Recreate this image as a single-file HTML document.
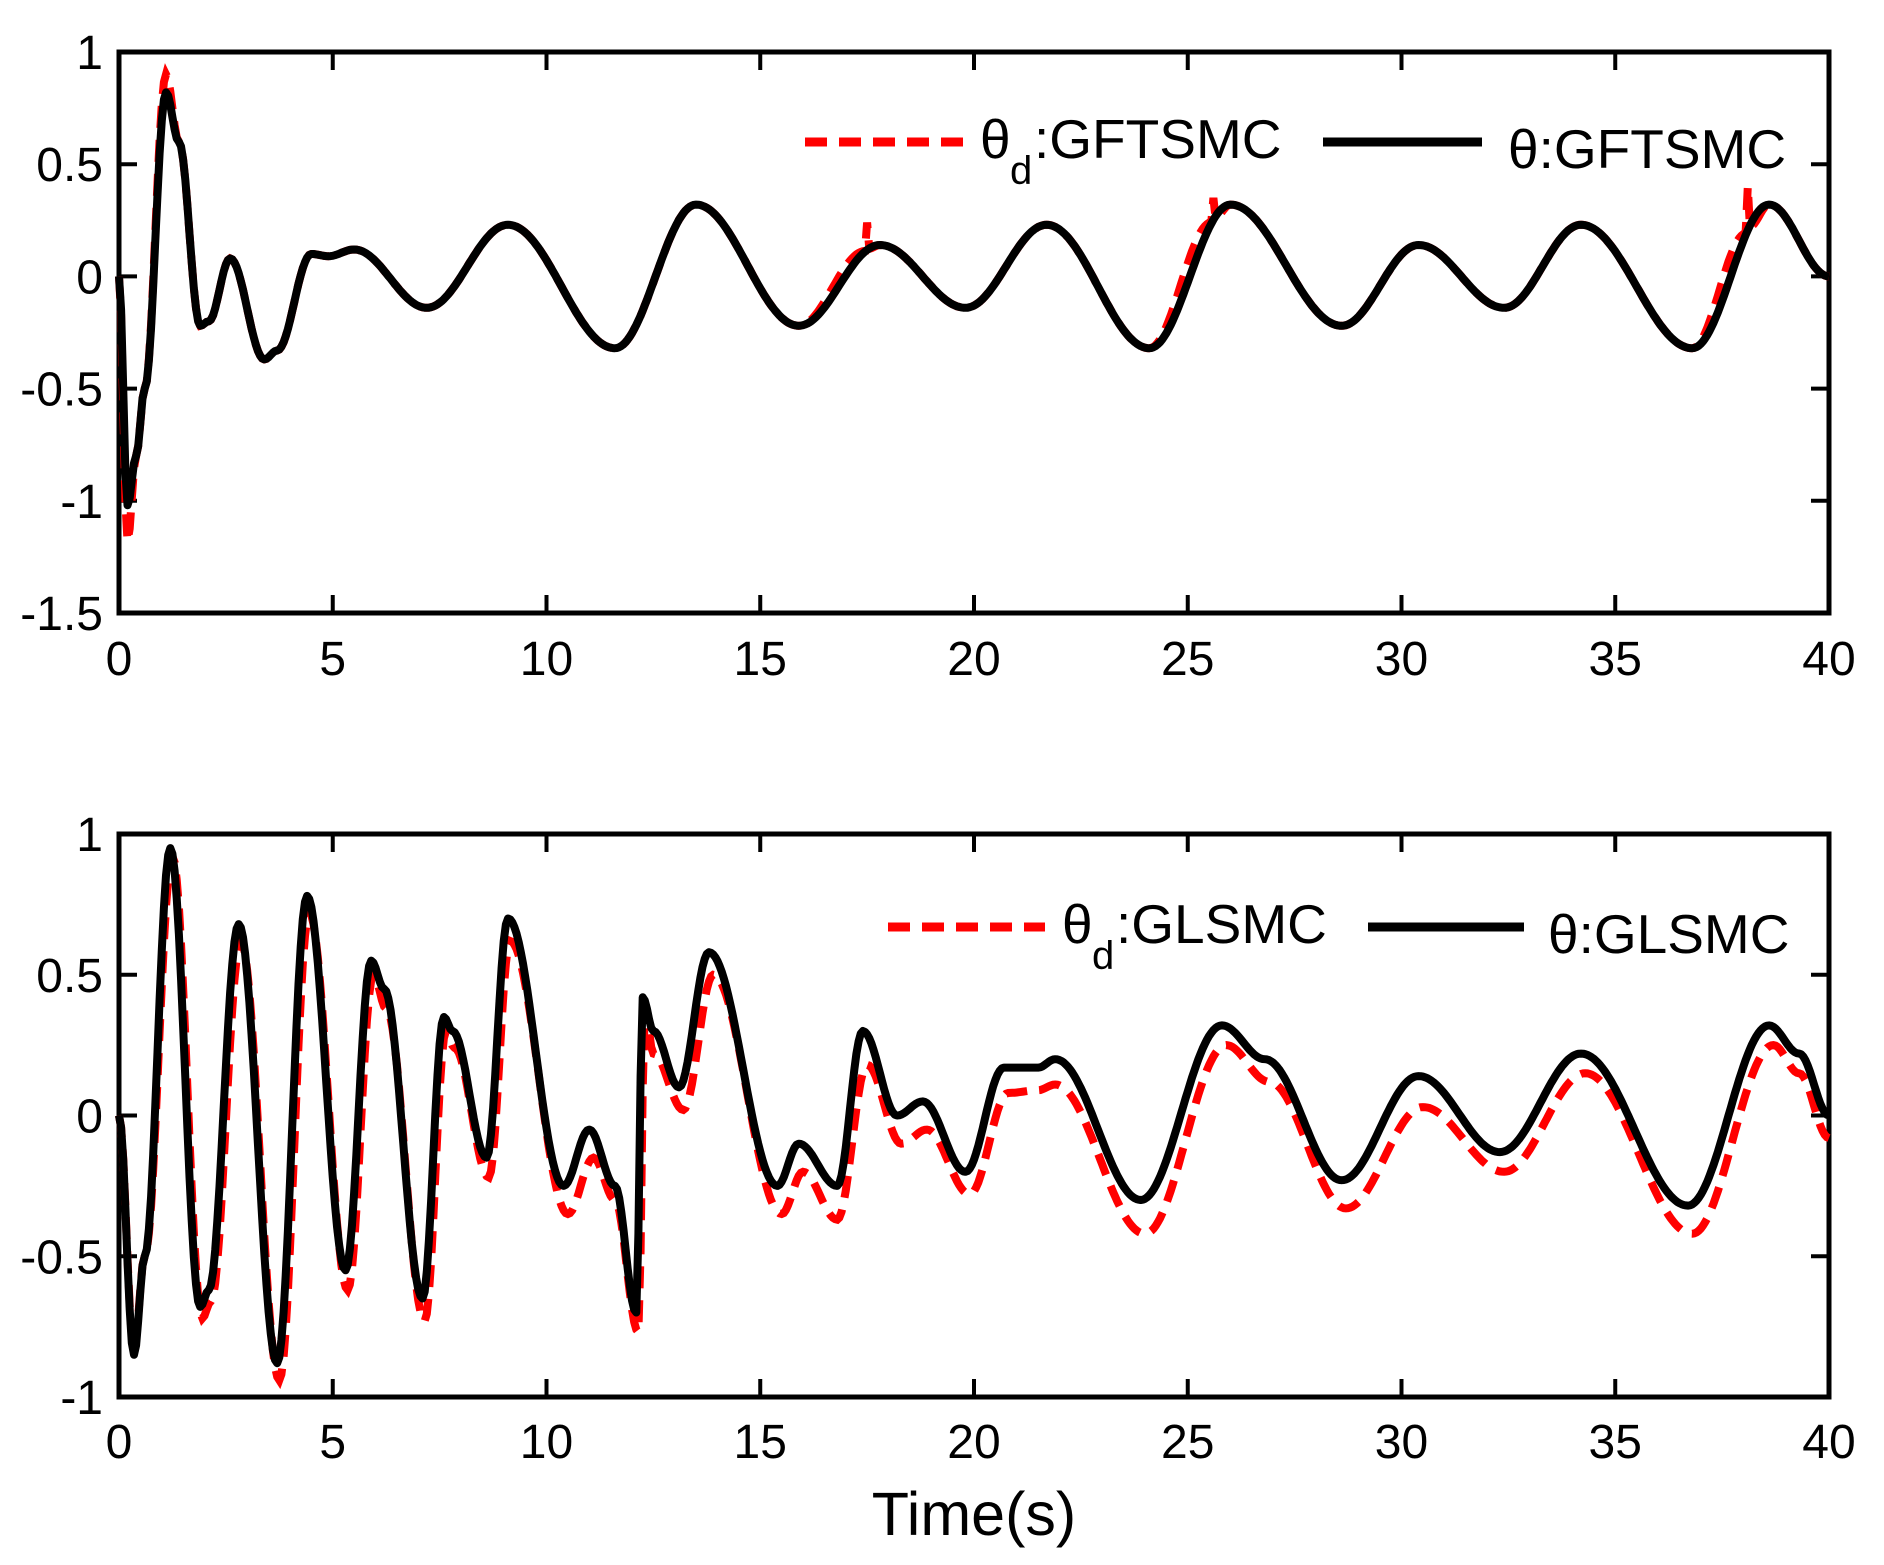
<!DOCTYPE html>
<html><head><meta charset="utf-8">
<style>
html,body{margin:0;padding:0;background:#fff;}
svg{display:block;}
text{font-family:"Liberation Sans",Arial,sans-serif;fill:#000;}
</style></head>
<body>
<svg id="s" width="1884" height="1565" xmlns="http://www.w3.org/2000/svg">
<g id="g"></g>
<line x1="805" y1="142" x2="965" y2="142" stroke="#f00" stroke-width="9" stroke-dasharray="22,12"/>
<text x="980" y="158" font-size="55">θ</text>
<text x="1010" y="184" font-size="40">d</text>
<text x="1034" y="158" font-size="55">:GFTSMC</text>
<line x1="1323" y1="142" x2="1482" y2="142" stroke="#000" stroke-width="9"/>
<text x="1508" y="168" font-size="55">θ:GFTSMC</text>
<line x1="888" y1="927" x2="1045" y2="927" stroke="#f00" stroke-width="9" stroke-dasharray="22,12"/>
<text x="1062" y="943" font-size="55">θ</text>
<text x="1092" y="969" font-size="40">d</text>
<text x="1116" y="943" font-size="55">:GLSMC</text>
<line x1="1368" y1="927" x2="1524" y2="927" stroke="#000" stroke-width="9"/>
<text x="1548" y="953" font-size="55">θ:GLSMC</text>
<text x="974" y="1535" font-size="61" text-anchor="middle">Time(s)</text>
</svg>
<script>
(function(){
const NS="http://www.w3.org/2000/svg";
const g=document.getElementById('g');
const L=119,R=1829;
function px(t){return L+(R-L)*t/40;}
function el(n,a,txt){const e=document.createElementNS(NS,n);for(const k in a)e.setAttribute(k,a[k]);if(txt!==undefined)e.textContent=txt;g.appendChild(e);return e;}
function interp(pts,t){
 for(let i=0;i<pts.length-1;i++){const a=pts[i][0],va=pts[i][1],b=pts[i+1][0],vb=pts[i+1][1];
  if(t>=a&&t<=b){const u=(t-a)/(b-a);const w=(1-Math.cos(Math.PI*u))/2;return va+(vb-va)*w;}}
 return pts[pts.length-1][1];}
function path(pts,py,dt){let d="";for(let t=0;t<=40.0001;t+=dt){const v=interp(pts,t);d+=(d?"L":"M")+px(t).toFixed(1)+","+py(v).toFixed(1);}return d;}
function axes(y0,y1,vmin,vmax,ticks,labels,xlabY){
 el('rect',{x:L,y:y0,width:R-L,height:y1-y0,fill:'none',stroke:'#000','stroke-width':5});
 const py=v=>y0+(vmax-v)/(vmax-vmin)*(y1-y0);
 ticks.forEach((v,i)=>{const y=py(v);
  el('line',{x1:L,y1:y,x2:L+18,y2:y,stroke:'#000','stroke-width':4});
  el('line',{x1:R-18,y1:y,x2:R,y2:y,stroke:'#000','stroke-width':4});
  el('text',{x:103,y:y+17,'font-size':48,'text-anchor':'end'},labels[i]);});
 for(let t=0;t<=40;t+=5){const x=px(t);
  el('line',{x1:x,y1:y1,x2:x,y2:y1-18,stroke:'#000','stroke-width':4});
  el('line',{x1:x,y1:y0,x2:x,y2:y0+18,stroke:'#000','stroke-width':4});
  el('text',{x:x,y:xlabY,'font-size':48,'text-anchor':'middle'},String(t));}
 return py;}
const py1=axes(52,613,-1.5,1,[1,0.5,0,-0.5,-1,-1.5],["1","0.5","0","-0.5","-1","-1.5"],675);
const py2=axes(834,1397,-1,1,[1,0.5,0,-0.5,-1],["1","0.5","0","-0.5","-1"],1458);
const topB=[[0,0],[0.2,-1.02],[0.4,-0.8],[0.6,-0.5],[1.1,0.82],[1.4,0.6],[1.9,-0.22],[2.1,-0.2],[2.6,0.08],[3.4,-0.37],[3.7,-0.33],[4.5,0.1],[4.9,0.09],[5.5,0.12],[7.2,-0.14],[9.1,0.23],[11.6,-0.32],[13.5,0.32],[15.9,-0.22],[17.8,0.14],[19.8,-0.14],[21.7,0.23],[24.1,-0.32],[26.0,0.32],[28.6,-0.22],[30.4,0.14],[32.4,-0.14],[34.2,0.23],[36.8,-0.32],[38.6,0.32],[40,0]];
const topR=topB.map(p=>[p[0],p[1]]);topR[1]=[0.2,-1.18];topR[4]=[1.1,0.9];
function withSpikes(pts,sp){let r=pts.slice();sp.forEach(s=>{r.push([s[0]-0.03,interp(pts,s[0]-0.03)]);r.push([s[0],s[1]]);r.push([s[0]+0.03,interp(pts,s[0]+0.03)]);});return r.sort((a,b)=>a[0]-b[0]);}
const topRed=withSpikes(topR,[[17.5,0.24],[25.6,0.35],[38.1,0.4]]);
const botB=[[0,0],[0.35,-0.85],[0.6,-0.5],[1.2,0.95],[1.9,-0.68],[2.1,-0.62],[2.8,0.68],[3.7,-0.88],[4.4,0.78],[5.3,-0.55],[5.9,0.55],[6.2,0.45],[7.1,-0.65],[7.6,0.35],[7.8,0.3],[8.6,-0.15],[9.1,0.7],[10.4,-0.25],[11.0,-0.05],[11.6,-0.25],[12.1,-0.7],[12.25,0.42],[12.5,0.3],[13.1,0.1],[13.8,0.58],[15.4,-0.25],[15.9,-0.1],[16.8,-0.25],[17.4,0.3],[18.2,0],[18.8,0.05],[19.8,-0.2],[20.7,0.17],[21.5,0.17],[21.9,0.2],[23.9,-0.3],[25.8,0.32],[26.8,0.2],[28.6,-0.23],[30.4,0.14],[32.3,-0.13],[34.2,0.22],[36.7,-0.32],[38.6,0.32],[39.3,0.22],[40,0]];
const botR=[[0,0],[0.35,-0.83],[0.6,-0.5],[1.25,0.92],[1.95,-0.72],[2.15,-0.66],[2.85,0.62],[3.75,-0.94],[4.45,0.72],[5.35,-0.62],[5.95,0.5],[6.25,0.38],[7.15,-0.73],[7.65,0.3],[7.85,0.24],[8.65,-0.22],[9.15,0.62],[10.5,-0.35],[11.1,-0.15],[11.6,-0.3],[12.15,-0.77],[12.3,0.38],[12.5,0.22],[13.2,0.02],[13.9,0.5],[15.5,-0.35],[16.0,-0.2],[16.8,-0.37],[17.5,0.18],[18.3,-0.1],[18.9,-0.05],[19.9,-0.28],[20.8,0.08],[21.5,0.09],[21.9,0.11],[24.0,-0.42],[25.9,0.25],[26.9,0.12],[28.7,-0.33],[30.5,0.03],[32.4,-0.2],[34.3,0.15],[36.8,-0.42],[38.7,0.25],[39.3,0.15],[40,-0.08]];
el('path',{d:path(topRed,py1,0.05),fill:'none',stroke:'#f00','stroke-width':8,'stroke-dasharray':'22,12'});
el('path',{d:path(topB,py1,0.05),fill:'none',stroke:'#000','stroke-width':8,'stroke-linejoin':'round'});
el('path',{d:path(botR,py2,0.05),fill:'none',stroke:'#f00','stroke-width':8,'stroke-dasharray':'22,12'});
el('path',{d:path(botB,py2,0.05),fill:'none',stroke:'#000','stroke-width':8,'stroke-linejoin':'round'});
})();
</script>
</body></html>
